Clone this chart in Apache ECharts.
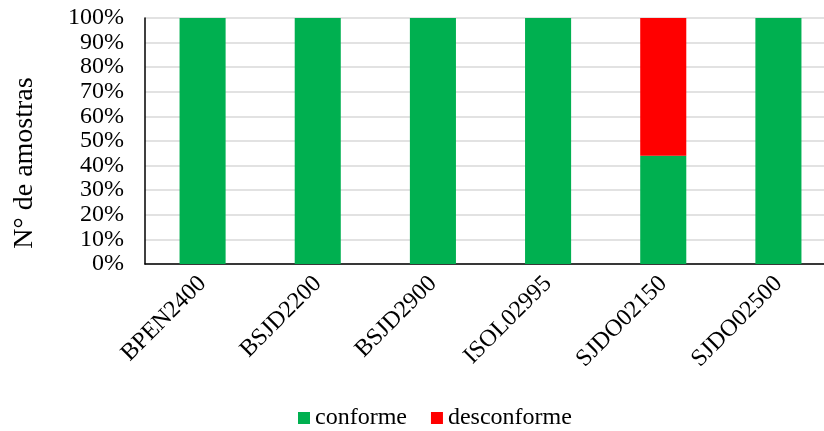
<!DOCTYPE html>
<html>
<head>
<meta charset="utf-8">
<script src="https://cdn.jsdelivr.net/npm/echarts@6/dist/echarts.min.js"></script>
<style>
html,body{margin:0;padding:0;background:#fff;overflow:hidden;width:824px;height:431px;}
/* canvas is a little wider than the window so the plot runs past the right edge */
#chart{width:836px;height:431px;}
</style>
</head>
<body>
<div id="chart"></div>
<script>
// Sampling points and share of samples per result
const categories = ['BPEN2400', 'BSJD2200', 'BSJD2900', 'ISOL02995', 'SJDO02150', 'SJDO02500'];
const conforme = [100, 100, 100, 100, 44, 100];
const desconforme = [0, 0, 0, 0, 56, 0];
const yTicks = [0, 10, 20, 30, 40, 50, 60, 70, 80, 90, 100];

const font = '"Liberation Serif", "Times New Roman", serif';
const chart = echarts.init(document.getElementById('chart'));
chart.setOption({
  animation: false,
  textStyle: { fontFamily: font },
  grid: { left: 145, right: 0, top: 18, height: 246, containLabel: false },
  legend: {
    top: 406,
    left: 298,
    padding: 0,
    itemWidth: 12,
    itemHeight: 12,
    itemGap: 24,
    icon: 'rect',
    textStyle: { fontFamily: font, fontSize: 24, color: '#000' },
    data: ['conforme', 'desconforme']
  },
  graphic: [{
    type: 'text',
    x: 25,
    y: 163,
    rotation: Math.PI / 2,
    style: {
      text: 'N° de amostras',
      font: '28px ' + font,
      fill: '#000',
      align: 'center',
      verticalAlign: 'middle'
    }
  }],
  xAxis: {
    type: 'category',
    data: categories,
    axisLine: { lineStyle: { color: '#000', width: 1.5 } },
    axisTick: { show: false },
    axisLabel: {
      rotate: 45,
      margin: 16,
      fontFamily: font,
      fontSize: 24,
      color: '#000',
      interval: 0
    }
  },
  yAxis: {
    type: 'value',
    min: 0,
    max: 100,
    interval: 10,
    axisLine: { show: true, lineStyle: { color: '#000', width: 1.5 } },
    axisTick: { show: false },
    splitLine: { lineStyle: { color: '#d9d9d9', width: 1.5 } },
    axisLabel: {
      margin: 21,
      fontFamily: font,
      fontSize: 24,
      color: '#000',
      formatter: v => yTicks.includes(v) ? v + '%' : ''
    }
  },
  series: [
    {
      name: 'conforme',
      type: 'bar',
      stack: 'total',
      barWidth: '40%',
      itemStyle: { color: '#00B050' },
      data: conforme
    },
    {
      name: 'desconforme',
      type: 'bar',
      stack: 'total',
      barWidth: '40%',
      itemStyle: { color: '#FF0000' },
      data: desconforme
    }
  ]
});
</script>
</body>
</html>
